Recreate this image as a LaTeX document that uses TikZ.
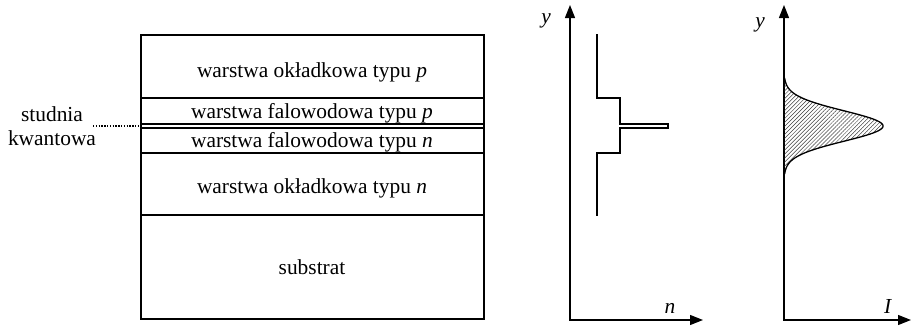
\documentclass[tikz,border=0pt]{standalone}
\usepackage{fontspec}
\setmainfont{Liberation Serif}
\usetikzlibrary{arrows.meta,patterns.meta}
\begin{document}
\begin{tikzpicture}[x=1pt,y=-1pt,
  every node/.style={font=\fontsize{21.4}{25}\selectfont, inner sep=0pt},
  lbl/.style={anchor=base},
  layer/.style={line width=1.3pt},
  axes/.style={line width=1.3pt,
    {Triangle[length=13pt,width=10pt]}-{Triangle[length=13pt,width=10pt]}},
  profile/.style={line width=1.3pt, line join=miter},
  hatch/.style={pattern={Lines[angle=45,distance=2.8pt,line width=0.5pt]},
    pattern color=black!75}]
\useasboundingbox (0,0) rectangle (911,325);

% ---- layer stack ----
\draw[layer] (141,35) rectangle (484,319);
\draw[layer] (141,98) -- (484,98);
\draw[layer] (141,124) -- (484,124);
\draw[line width=2pt] (141,127.8) -- (484,127.8);
\draw[layer] (141,153) -- (484,153);
\draw[layer] (141,215) -- (484,215);

\node[lbl] (cladp) at (312,77)  {warstwa okładkowa typu \textit{p}};
\node[lbl] (wgp)   at (312,118) {warstwa falowodowa typu \textit{p}};
\node[lbl] (wgn)   at (312,147) {warstwa falowodowa typu \textit{n}};
\node[lbl] (cladn) at (312,193) {warstwa okładkowa typu \textit{n}};
\node[lbl] (subs)  at (312,274) {substrat};

% ---- quantum well label ----
\node[lbl] (stud) at (52,121) {studnia};
\node[lbl] (kwan) at (52,145) {kwantowa};
\coordinate (qwtail) at (93,126);
\coordinate (qw) at (141,126);
\draw[line width=1.4pt, dash pattern=on 1.4pt off 1.4pt] (qwtail) -- (qw);

% ---- refractive index profile ----
\coordinate (o1) at (570,320);
\coordinate (ytop1) at (570,5);
\coordinate (xend1) at (703,320);
\draw[axes] (ytop1) -- (o1) -- (xend1);
\node[lbl] (ylab1) at (546,23) {\textit{y}};
\node[lbl] (nlab)  at (670,313) {\textit{n}};

\draw[profile] (597,34) -- (597,98) -- (620,98) -- (620,124) -- (668,124)
  -- (668,128) -- (620,128) -- (620,153) -- (597,153) -- (597,216);

% ---- optical intensity profile ----
\coordinate (o2) at (784,320);
\coordinate (ytop2) at (784,5);
\coordinate (xend2) at (911,320);
\draw[axes] (ytop2) -- (o2) -- (xend2);
\node[lbl] (ylab2) at (760,27) {\textit{y}};
\node[lbl] (ilab)  at (888,313) {\textit{I}};

\fill[hatch] plot[domain=-48:48, samples=121, smooth]
  ({784+99*exp(-((\x/21.5)*(\x/21.5)))}, {126+\x}) -- cycle;
\draw[line width=1.3pt] plot[domain=-48:48, samples=121, smooth]
  ({784+99*exp(-((\x/21.5)*(\x/21.5)))}, {126+\x});
\end{tikzpicture}
\end{document}
